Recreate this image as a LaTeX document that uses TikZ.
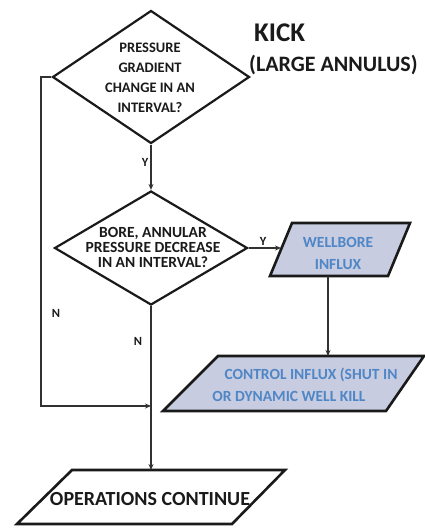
\documentclass[tikz,border=0pt]{standalone}
\usepackage{fontspec}
\setmainfont{Carlito}
\usetikzlibrary{shapes.geometric,arrows.meta}
\definecolor{boxfill}{HTML}{C8CCE0}
\definecolor{boxtext}{HTML}{4F86C6}
\definecolor{ink}{HTML}{1A1A1A}
\tikzset{
  decision/.style={diamond,draw=ink,line width=2.2pt,inner sep=0pt},
  paraline/.style={draw=ink,line width=2.6pt,line join=miter},
  conn/.style={draw=ink!90,line width=1.3pt,-{Stealth[length=6pt,width=5pt]}},
  lbl/.style={font=\bfseries\fontsize{12.5}{14}\selectfont,text=ink},
  bluetext/.style={text=boxtext,font=\bfseries\fontsize{15.5}{17}\selectfont}
}
\begin{document}
\begin{tikzpicture}[x=1pt,y=-1pt]
\useasboundingbox[fill=white] (0,0) rectangle (424,529);
% decisions
\node[decision,minimum width=197pt,minimum height=133pt] (d1) at (151,77) {};
\node[align=center,font=\bfseries\fontsize{14.5}{20}\selectfont,text=ink] (d1t) at (150,77.5) {PRESSURE\\GRADIENT\\CHANGE IN AN\\INTERVAL?};
\node[decision,minimum width=193pt,minimum height=114pt] (d2) at (151,248) {};
\node[align=center,font=\bfseries\fontsize{15.5}{15}\selectfont,text=ink] (d2t) at (153,247) {BORE, ANNULAR\\PRESSURE DECREASE\\IN AN INTERVAL?};
% title
\node[anchor=west,font=\bfseries\fontsize{27}{28}\selectfont,text=ink,inner sep=0pt] (kick) at (254,33) {KICK};
\node[anchor=west,font=\bfseries\fontsize{22}{23}\selectfont,text=ink,inner sep=0pt] (ann) at (249,65) {(LARGE ANNULUS)};
% parallelogram 1
\draw[paraline,fill=boxfill] (292,223) -- (410,223) -- (388,276) -- (270,276) -- cycle;
\node[bluetext,align=center,font=\bfseries\fontsize{15.5}{22}\selectfont] (p1) at (338,253) {WELLBORE\\INFLUX};
\coordinate (p1in) at (281,248);
\coordinate (p1out) at (328,276);
% parallelogram 2
\draw[paraline,fill=boxfill] (218,356) -- (424,356) -- (386,411) -- (163,411) -- cycle;
\node[bluetext] (p2) at (311,375) {CONTROL INFLUX (SHUT IN};
\node[bluetext] (p2b) at (289,396) {OR DYNAMIC WELL KILL};
\coordinate (p2in) at (328,356);
% parallelogram 3
\draw[paraline,fill=white] (72,470) -- (285,470) -- (232,524) -- (17,524) -- cycle;
\node[font=\bfseries\fontsize{20}{22}\selectfont,text=ink] (p3) at (150,499) {OPERATIONS CONTINUE};
\coordinate (p3in) at (151,470);
% connectors
\draw[conn] (d1.south) -- node[lbl,left,pos=0.4,inner sep=2pt] {Y} (d2.north);
\draw[conn] (d2.east) -- node[lbl,above,pos=0.45,inner sep=2pt] {Y} (p1in);
\draw[conn] (p1out) -- (p2in);
\draw[conn] (d2.south) -- (p3in);
\coordinate (lt) at (41,77);
\coordinate (lb) at (41,406);
\coordinate (mj) at (151,406);
\draw[conn] (d1.west) -- (lt) -- (lb) -- (mj);
\node[lbl] (n1) at (56,313) {N};
\node[lbl] (n2) at (138,341) {N};
\end{tikzpicture}
\end{document}
